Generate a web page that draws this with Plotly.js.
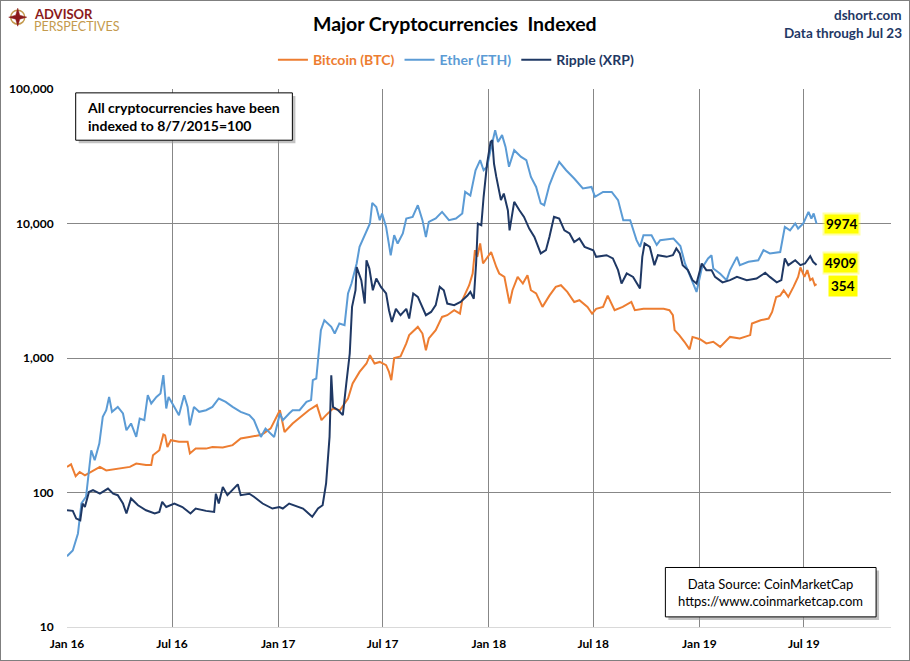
<!DOCTYPE html>
<html>
<head>
<meta charset="utf-8">
<script src="https://cdn.plot.ly/plotly-3.1.2.min.js"></script>
<style>
  body { margin: 0; background: #fff; }
  #chart { width: 910px; height: 661px; box-sizing: border-box; border: 1px solid #7f7f7f; }
</style>
</head>
<body>
<div id="chart"></div>
<script>
// Index values (8/7/2015 = 100)
const btcDates = ["2016-01-01","2016-01-08","2016-01-16","2016-01-23","2016-02-01","2016-02-12","2016-02-27","2016-03-09","2016-04-02","2016-04-19","2016-04-30","2016-05-17","2016-05-26","2016-05-29","2016-06-09","2016-06-16","2016-06-19","2016-06-23","2016-06-29","2016-07-13","2016-07-28","2016-08-01","2016-08-11","2016-08-29","2016-09-09","2016-09-27","2016-10-14","2016-10-28","2016-11-12","2016-11-29","2016-12-07","2016-12-19","2017-01-04","2017-01-12","2017-01-26","2017-02-09","2017-02-23","2017-03-09","2017-03-17","2017-03-25","2017-04-06","2017-04-18","2017-05-02","2017-05-10","2017-05-22","2017-06-03","2017-06-09","2017-06-17","2017-06-26","2017-07-07","2017-07-12","2017-07-16","2017-07-21","2017-08-01","2017-08-11","2017-08-16","2017-08-31","2017-09-08","2017-09-14","2017-09-19","2017-10-01","2017-10-12","2017-10-21","2017-11-02","2017-11-12","2017-11-16","2017-11-28","2017-12-04","2017-12-08","2017-12-12","2017-12-17","2017-12-22","2018-01-05","2018-01-14","2018-01-19","2018-01-28","2018-02-06","2018-02-11","2018-02-20","2018-03-01","2018-03-09","2018-03-15","2018-03-24","2018-04-04","2018-04-16","2018-04-27","2018-05-06","2018-05-17","2018-05-29","2018-06-07","2018-06-21","2018-06-29","2018-07-06","2018-07-18","2018-07-26","2018-08-07","2018-08-21","2018-09-05","2018-09-11","2018-09-26","2018-10-13","2018-10-31","2018-11-10","2018-11-16","2018-11-19","2018-11-27","2018-12-06","2018-12-15","2018-12-20","2019-01-02","2019-01-13","2019-01-25","2019-02-06","2019-02-23","2019-03-12","2019-03-30","2019-04-02","2019-04-17","2019-05-01","2019-05-07","2019-05-14","2019-05-21","2019-05-27","2019-06-04","2019-06-13","2019-06-21","2019-06-25","2019-07-02","2019-07-07","2019-07-12","2019-07-16","2019-07-20","2019-07-23"];
const btcValues = [155,162,132,142,134,142,155,146,151,155,164,160,160,189,206,270,266,218,245,238,238,195,212,212,218,216,225,252,259,266,275,300,409,282,326,365,409,446,345,376,421,409,500,646,788,910,1050,910,935,884,788,684,1000,1028,1283,1480,1703,1520,1143,1397,1610,2020,2080,2265,2135,2690,3475,4250,6330,5650,7100,5045,6140,4750,4250,4010,2540,3190,4010,3580,4120,3190,3020,2400,2910,3380,3475,3100,2610,2690,2400,2135,2320,2400,2910,2265,2400,2610,2265,2320,2320,2320,2265,2080,1610,1480,1320,1160,1435,1380,1283,1320,1209,1435,1397,1480,1807,1910,1965,2200,2845,2910,3190,2845,3380,4010,4710,4010,4500,3790,3900,3475,3540];

const ethDates = ["2016-01-01","2016-01-11","2016-01-20","2016-01-26","2016-02-03","2016-02-12","2016-02-18","2016-02-26","2016-03-03","2016-03-09","2016-03-14","2016-03-19","2016-03-29","2016-04-07","2016-04-13","2016-04-21","2016-04-30","2016-05-06","2016-05-14","2016-05-20","2016-05-26","2016-06-04","2016-06-11","2016-06-16","2016-06-21","2016-06-25","2016-07-05","2016-07-13","2016-07-22","2016-07-28","2016-08-01","2016-08-08","2016-08-17","2016-08-29","2016-09-09","2016-09-20","2016-10-02","2016-10-14","2016-10-28","2016-11-12","2016-11-20","2016-12-02","2016-12-10","2016-12-25","2017-01-04","2017-01-09","2017-01-20","2017-01-26","2017-02-07","2017-02-19","2017-02-27","2017-03-02","2017-03-08","2017-03-16","2017-03-22","2017-04-03","2017-04-09","2017-04-17","2017-04-26","2017-05-02","2017-05-08","2017-05-17","2017-05-22","2017-05-31","2017-06-09","2017-06-13","2017-06-20","2017-06-26","2017-06-30","2017-07-07","2017-07-15","2017-07-21","2017-07-27","2017-08-05","2017-08-11","2017-08-22","2017-08-31","2017-09-08","2017-09-14","2017-09-19","2017-10-01","2017-10-12","2017-10-24","2017-11-05","2017-11-16","2017-11-21","2017-11-30","2017-12-09","2017-12-17","2017-12-23","2017-12-29","2018-01-04","2018-01-12","2018-01-17","2018-01-24","2018-01-30","2018-02-05","2018-02-14","2018-02-26","2018-03-07","2018-03-15","2018-03-24","2018-04-01","2018-04-07","2018-04-16","2018-04-24","2018-05-03","2018-05-15","2018-05-29","2018-06-13","2018-06-28","2018-07-04","2018-07-18","2018-08-02","2018-08-13","2018-08-22","2018-09-03","2018-09-14","2018-09-20","2018-09-26","2018-10-10","2018-10-19","2018-10-25","2018-11-17","2018-11-26","2018-11-29","2018-12-07","2018-12-16","2018-12-27","2019-01-05","2019-01-16","2019-01-22","2019-01-25","2019-02-06","2019-02-17","2019-02-23","2019-03-07","2019-03-12","2019-03-27","2019-04-13","2019-04-22","2019-05-03","2019-05-21","2019-05-29","2019-06-07","2019-06-16","2019-06-21","2019-06-30","2019-07-09","2019-07-14","2019-07-18","2019-07-23"];
const ethValues = [33.6,37,49.6,83,93,206,174,231,365,409,514,398,433,387,290,326,259,355,345,529,459,514,545,745,421,514,433,376,529,433,316,433,398,409,433,500,472,433,398,376,345,259,299,259,387,345,387,409,409,472,486,684,704,1610,1910,1703,1520,1807,1754,3020,3580,5045,6700,8185,10000,14230,13280,10590,11870,9440,5810,8185,7100,8430,10890,11200,13680,10590,7940,10280,10890,12200,10590,10890,11870,17180,16120,24900,29600,24900,26400,35100,49400,40400,45400,37100,26400,35100,31300,29600,22200,18700,14100,13680,19300,23600,28700,24900,21600,18200,18700,15800,17180,17180,14930,10590,10590,7520,6700,8185,8185,6930,7520,7740,7100,6800,5045,4010,3100,4630,5500,5800,4630,4230,3790,4500,5650,4900,5190,5330,6330,5990,6140,9440,8900,10000,9170,10000,12200,10890,11870,9974];

const xrpDates = ["2016-01-01","2016-01-11","2016-01-17","2016-01-24","2016-01-28","2016-02-01","2016-02-08","2016-02-15","2016-02-27","2016-03-12","2016-03-21","2016-03-29","2016-04-07","2016-04-13","2016-04-21","2016-05-03","2016-05-17","2016-06-01","2016-06-09","2016-06-14","2016-06-21","2016-07-05","2016-07-19","2016-08-02","2016-08-11","2016-08-29","2016-09-12","2016-09-15","2016-09-20","2016-09-27","2016-10-05","2016-10-14","2016-10-23","2016-10-28","2016-11-12","2016-11-20","2016-12-05","2016-12-22","2017-01-03","2017-01-09","2017-01-20","2017-02-13","2017-03-01","2017-03-11","2017-03-19","2017-03-25","2017-03-31","2017-04-03","2017-04-06","2017-04-15","2017-04-23","2017-04-29","2017-05-05","2017-05-09","2017-05-15","2017-05-17","2017-05-25","2017-05-31","2017-06-03","2017-06-08","2017-06-14","2017-06-20","2017-06-28","2017-07-07","2017-07-12","2017-07-17","2017-07-24","2017-08-01","2017-08-11","2017-08-16","2017-08-23","2017-08-31","2017-09-05","2017-09-14","2017-09-23","2017-10-01","2017-10-08","2017-10-15","2017-10-21","2017-11-02","2017-11-13","2017-11-25","2017-11-30","2017-12-06","2017-12-10","2017-12-13","2017-12-19","2017-12-23","2017-12-29","2018-01-04","2018-01-07","2018-01-10","2018-01-14","2018-01-19","2018-01-22","2018-01-27","2018-02-03","2018-02-06","2018-02-14","2018-02-23","2018-03-03","2018-03-12","2018-03-21","2018-04-01","2018-04-10","2018-04-16","2018-04-24","2018-05-03","2018-05-12","2018-05-21","2018-05-29","2018-06-07","2018-06-16","2018-07-01","2018-07-06","2018-07-24","2018-08-04","2018-08-13","2018-08-19","2018-08-28","2018-09-08","2018-09-20","2018-09-24","2018-09-28","2018-10-07","2018-10-15","2018-10-21","2018-11-05","2018-11-16","2018-11-22","2018-11-28","2018-12-03","2018-12-12","2018-12-20","2018-12-27","2019-01-05","2019-01-13","2019-01-22","2019-01-28","2019-02-10","2019-02-23","2019-03-07","2019-03-24","2019-04-10","2019-04-25","2019-05-03","2019-05-15","2019-05-23","2019-05-29","2019-06-04","2019-06-16","2019-06-25","2019-07-03","2019-07-12","2019-07-17","2019-07-23"];
const xrpValues = [73.8,73,64,62.2,82.8,78,101,104,98,107,98,95.5,82.8,69.8,90.3,80.4,73.8,69.8,71.7,85.2,78,82.8,78,69.8,76,73,71.7,98,82.8,110,95.5,104,115,95.5,98,93,82.8,76,78,76,82.8,76,65.9,76,80.4,116.7,259,745,433,409,376,646,1080,2400,3190,4750,3790,2540,5330,4630,3190,3900,3380,3020,2265,1855,2320,2080,2320,1965,3020,2845,2540,2080,2200,2470,3380,3190,2540,2470,2610,2910,3100,2760,5045,10000,9700,15800,27900,40400,41600,27900,22200,17700,14930,16700,12540,8900,14500,12540,11200,9170,7940,5990,6330,7940,11200,10890,8900,8430,7280,7740,6700,6330,5650,5810,5500,4500,3580,4250,4010,3290,5650,7100,6700,4900,5810,5650,5810,6520,5990,4900,4500,3790,3580,5045,4500,4500,4010,3650,3790,4010,3790,3900,4300,4010,3650,3790,5500,4900,5330,4900,5045,5720,5190,4909];

const yTickVals = [10, 100, 1000, 10000, 100000];
const yTickText = ["10", "100", "1,000", "10,000", "100,000"];
const xTickVals = ["2016-01-01","2016-07-01","2017-01-01","2017-07-01","2018-01-01","2018-07-01","2019-01-01","2019-07-01"];
const xTickText = ["Jan 16","Jul 16","Jan 17","Jul 17","Jan 18","Jul 18","Jan 19","Jul 19"];

const lastLabels = ["9974", "4909", "354"];

const FONT = "Lato, 'Open Sans', sans-serif";
const colBtc = "#ED7D31";
const colEth = "#5B9BD5";
const colXrp = "#1F3864";
const gridCol = "#878787";

const series = [
  { name: "Bitcoin (BTC)", x: btcDates, y: btcValues, color: colBtc },
  { name: "Ether (ETH)", x: ethDates, y: ethValues, color: colEth },
  { name: "Ripple (XRP)", x: xrpDates, y: xrpValues, color: colXrp },
];

const traces = series.map((s) => ({
  type: "scatter",
  mode: "lines",
  x: s.x,
  y: s.y,
  name: `<b><span style="color:${s.color}">${s.name}</span></b>`,
  line: { color: s.color, width: 2 },
  hoverinfo: "x+y",
}));

// end-of-series labels (yellow highlight, first two with a soft glow)
const labelSpecs = [
  { text: lastLabels[0], x: 0.9402, y: 0.750, glow: true, pad: 1 },
  { text: lastLabels[1], x: 0.9390, y: 0.6757, glow: true, pad: 1 },
  { text: lastLabels[2], x: 0.9414, y: 0.6335, glow: false, pad: 2 },
];

// all annotations anchored explicitly so "auto" anchoring doesn't shift them
const note = (text, x, y, opts = {}) => ({
  text, xref: "paper", yref: "paper", x, y,
  xanchor: "center", yanchor: "middle", showarrow: false,
  ...opts,
});

const annotations = [
  note("<b>Major Cryptocurrencies  Indexed</b>", 0.4705, 1.1223,
      { font: { family: FONT, size: 19.5, color: "#000" } }),
  note("<b>dshort.com</b>", 1.0158, 1.1375,
      { xanchor: "right", font: { family: FONT, size: 13.5, color: "#1F3864" } }),
  note("<b>Data through Jul 23</b>", 1.0158, 1.1040,
      { xanchor: "right", font: { family: FONT, size: 13.5, color: "#1F3864" } }),
  note("<b>ADVISOR</b>", -0.0430, 1.1395,
      { xanchor: "left", font: { family: FONT, size: 13, color: "#8B1A1A" } }),
  note("PERSPECTIVES", -0.0430, 1.1160,
      { xanchor: "left", font: { family: FONT, size: 12.5, color: "#C49A4E" } }),
  note("<b>All cryptocurrencies have been<br>indexed to 8/7/2015=100</b>", 0.0215, 0.9494,
      { xanchor: "left", align: "left", font: { family: FONT, size: 14, color: "#000" } }),
  note("Data Source: CoinMarketCap<br>https://www.coinmarketcap.com", 0.854, 0.0647,
      { align: "center", font: { family: FONT, size: 13, color: "#000" } }),
];

labelSpecs.forEach((l) => {
  if (l.glow) {
    annotations.push(note(`<b>${l.text}</b>`, l.x, l.y, {
      bgcolor: "rgba(255,255,0,0.35)", borderpad: 3,
      font: { family: FONT, size: 13, color: "rgba(0,0,0,0)" },
    }));
  }
  annotations.push(note(`<b>${l.text}</b>`, l.x, l.y, {
    bgcolor: "#FFFF00", borderpad: l.pad,
    font: { family: FONT, size: 13.5, color: "#000" },
  }));
});

const shapes = [
  // text box with drop shadow
  { type: "rect", xref: "paper", yref: "paper", x0: 0.0142, x1: 0.2772, y0: 0.8993, y1: 0.9872,
    fillcolor: "#9a9a9a", line: { width: 0 }, opacity: 0.6 },
  { type: "rect", xref: "paper", yref: "paper", x0: 0.01056, x1: 0.2735, y0: 0.9048, y1: 0.9928,
    fillcolor: "#fff", line: { color: "#000", width: 1 } },
  // data source box with drop shadow
  { type: "rect", xref: "paper", yref: "paper", x0: 0.7298, x1: 0.9855, y0: 0.0132, y1: 0.105,
    fillcolor: "#9a9a9a", line: { width: 0 }, opacity: 0.6 },
  { type: "rect", xref: "paper", yref: "paper", x0: 0.7262, x1: 0.9819, y0: 0.0188, y1: 0.1106,
    fillcolor: "#fff", line: { color: "#000", width: 1 } },
  // logo compass
  { type: "circle", xref: "paper", yref: "paper", xsizemode: "pixel", ysizemode: "pixel",
    xanchor: -0.0598, yanchor: 1.1335, x0: -7, x1: 7, y0: -7, y1: 7,
    line: { color: "#C49A4E", width: 1.5 }, fillcolor: "rgba(0,0,0,0)" },
  { type: "path", xref: "paper", yref: "paper", xsizemode: "pixel", ysizemode: "pixel",
    xanchor: -0.0598, yanchor: 1.1335,
    path: "M0,9 L2,2 L9,0 L2,-2 L0,-9 L-2,-2 L-9,0 L-2,2 Z",
    fillcolor: "#8B1A1A", line: { color: "#8B1A1A", width: 0.5 } },
];

const layout = {
  width: 908,
  height: 659,
  margin: { l: 66.3, r: 18, t: 87.8, b: 33.2 },
  paper_bgcolor: "#fff",
  plot_bgcolor: "#fff",
  font: { family: FONT, size: 12, color: "#000" },
  showlegend: true,
  legend: {
    orientation: "h", x: 0.472, y: 1.0535, xanchor: "center", yanchor: "middle",
    font: { family: FONT, size: 14 }, itemwidth: 30, tracegroupgap: 0,
  },
  xaxis: {
    type: "date",
    range: ["2016-01-01", "2019-11-29"],
    tickvals: xTickVals,
    ticktext: xTickText.map((t) => `<b>${t}</b>`),
    showgrid: true, gridcolor: gridCol, gridwidth: 1,
    showline: true, linecolor: "#d9d9d9", linewidth: 1,
    ticks: "outside", ticklen: 6, tickcolor: "rgba(0,0,0,0)",
    tickfont: { family: FONT, size: 12, color: "#000" },
    zeroline: false, fixedrange: true,
  },
  yaxis: {
    type: "log",
    range: [1, 5],
    tickvals: yTickVals,
    ticktext: yTickText.map((t) => `<b>${t}</b>`),
    showgrid: true, gridcolor: gridCol, gridwidth: 1,
    showline: false,
    ticks: "outside", ticklen: 10, tickcolor: "rgba(0,0,0,0)",
    tickfont: { family: FONT, size: 12, color: "#000" },
    zeroline: false, fixedrange: true,
  },
  annotations,
  shapes,
};

Plotly.newPlot("chart", traces, layout, { displayModeBar: false, staticPlot: true });
</script>
</body>
</html>
